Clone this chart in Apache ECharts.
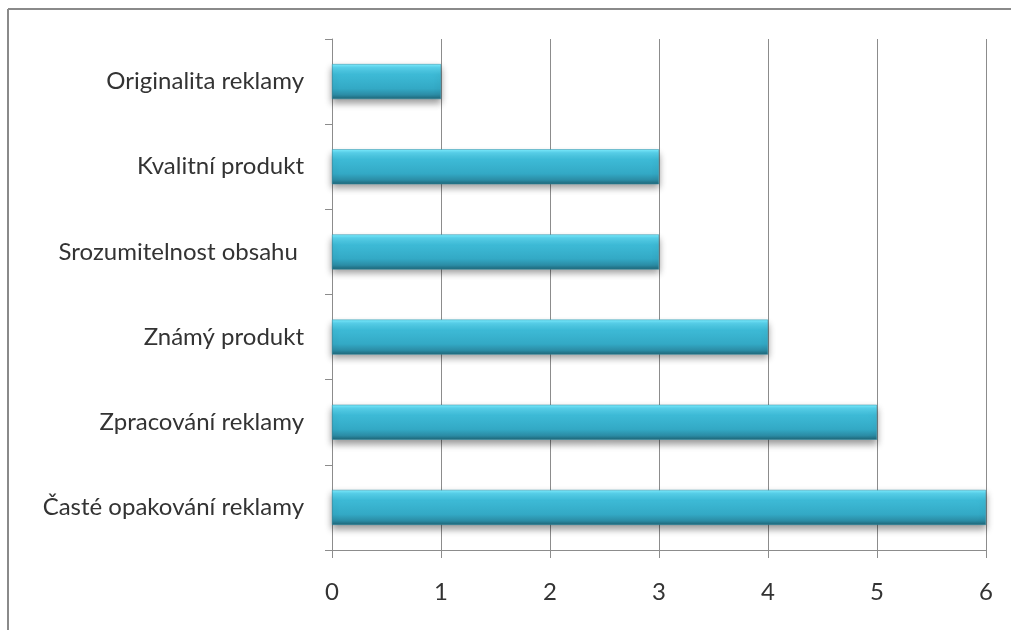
<!DOCTYPE html>
<html>
<head>
<meta charset="utf-8">
<script src="https://cdn.jsdelivr.net/npm/echarts@6/dist/echarts.min.js"></script>
<style>
  html, body { margin: 0; padding: 0; background: #fff; }
  #chart { width: 1011px; height: 630px; }
</style>
</head>
<body>
<div id="chart"></div>
<script>
// Categories listed top to bottom
const categories = [
  'Originalita reklamy',
  'Kvalitní produkt',
  'Srozumitelnost obsahu ',
  'Známý produkt',
  'Zpracování reklamy',
  'Časté opakování reklamy'
];
const values = [1, 3, 3, 4, 5, 6];
const xTicks = { min: 0, max: 6, interval: 1 };

const chart = echarts.init(document.getElementById('chart'));
const fontFamily = 'Lato, Open Sans, sans-serif';

chart.setOption({
  animation: false,
  backgroundColor: '#ffffff',
  graphic: [
    { type: 'line', shape: { x1: 8, y1: 9, x2: 1011, y2: 9 }, style: { stroke: '#8a8a8a', lineWidth: 2 } },
    { type: 'line', shape: { x1: 8, y1: 9, x2: 8, y2: 630 }, style: { stroke: '#8a8a8a', lineWidth: 2 } }
  ],
  grid: { left: 332, right: 25, top: 39, bottom: 80, containLabel: false },
  xAxis: {
    type: 'value',
    min: xTicks.min,
    max: xTicks.max,
    interval: xTicks.interval,
    axisLine: { show: true, lineStyle: { color: '#8c8c8c', width: 1 } },
    axisTick: { show: true, length: 8, lineStyle: { color: '#8c8c8c' } },
    splitLine: { show: true, lineStyle: { color: '#8c8c8c', width: 1 } },
    axisLabel: { color: '#333', fontSize: 24, fontFamily, margin: 30 }
  },
  yAxis: {
    type: 'category',
    inverse: true,
    data: categories,
    axisLine: { show: true, lineStyle: { color: '#8c8c8c', width: 1 } },
    axisTick: { show: true, length: 7, alignWithLabel: false, lineStyle: { color: '#8c8c8c' } },
    axisLabel: { color: '#333', fontSize: 24, fontFamily, margin: 28 }
  },
  series: [{
    type: 'bar',
    data: values,
    barWidth: 35,
    itemStyle: {
      color: new echarts.graphic.LinearGradient(0, 0, 0, 1, [
        { offset: 0, color: '#7eeeff' },
        { offset: 0.1, color: '#58d2ec' },
        { offset: 0.3, color: '#3dbad6' },
        { offset: 0.7, color: '#33a9c5' },
        { offset: 0.88, color: '#2b8ca5' },
        { offset: 1, color: '#1f6577' }
      ]),
      borderColor: '#2f8ea6',
      borderWidth: 0.5,
      shadowColor: 'rgba(0,0,0,0.4)',
      shadowBlur: 7,
      shadowOffsetY: 4
    }
  }]
});
</script>
</body>
</html>
